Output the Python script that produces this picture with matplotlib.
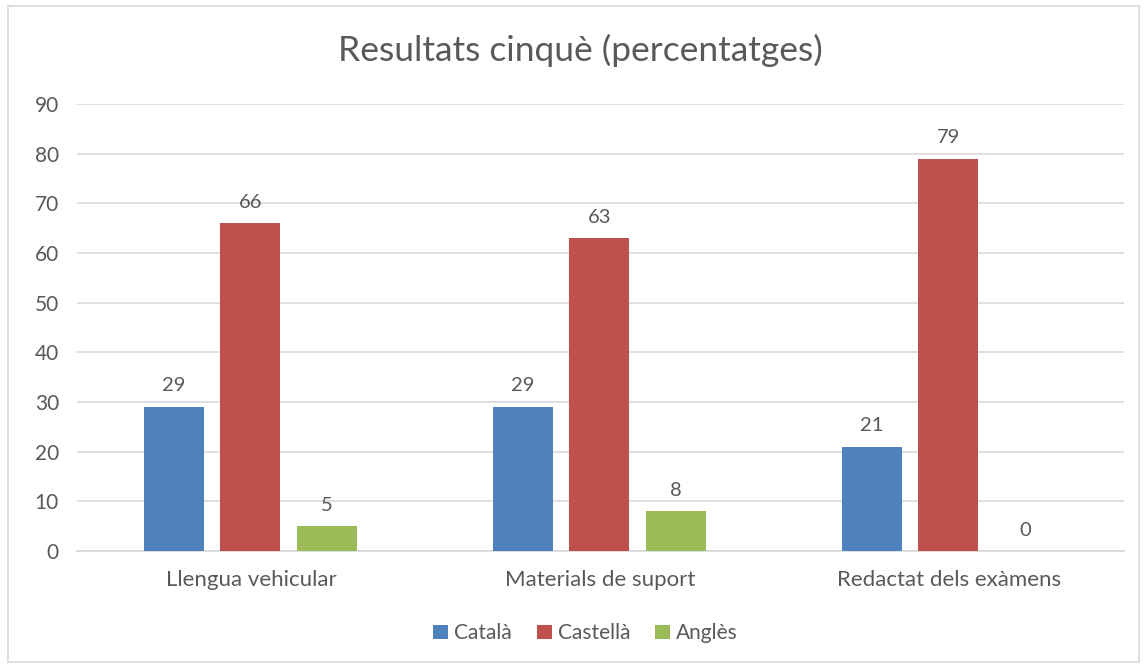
import numpy as np
import matplotlib.pyplot as plt
from matplotlib.patches import Rectangle

categories = ["Llengua vehicular", "Materials de suport", "Redactat dels exàmens"]
series_names = ["Català", "Castellà", "Anglès"]
catala = [29, 29, 21]
castella = [66, 63, 79]
angles = [5, 8, 0]
colors = ["#4f81bd", "#c0504d", "#9bbb59"]
yticks = [0, 10, 20, 30, 40, 50, 60, 70, 80, 90]

plt.rcParams['font.family'] = ['Lato', 'DejaVu Sans']
text_col = "#595959"

fig = plt.figure(figsize=(11.46, 6.68), dpi=100)
ax = fig.add_axes([0.0672, 0.1751, 0.9136, 0.6692])

x = np.arange(len(categories))
width = 0.172
step = 0.22
for i, (vals, name, c) in enumerate(zip([catala, castella, angles], series_names, colors)):
    bars = ax.bar(x + (i - 1) * step - 0.003, vals, width, color=c, label=name, zorder=3)
    for b, v in zip(bars, vals):
        ax.annotate(str(v), (b.get_x() + b.get_width() / 2, v), xytext=(0, 9),
                    textcoords="offset points", ha="center", va="bottom",
                    fontsize=14.5, color=text_col)

ax.set_xlim(-0.5, 2.5)
ax.set_ylim(0, 90)
ax.set_yticks(yticks)
ax.set_xticks(x)
ax.set_xticklabels(categories)
ax.grid(axis="y", color="#d9d9d9", linewidth=1.2, zorder=0)
for s in ["top", "right", "left"]:
    ax.spines[s].set_visible(False)
ax.spines["bottom"].set_color("#d9d9d9")
ax.spines["bottom"].set_linewidth(1.2)
ax.tick_params(axis="both", length=0, labelsize=15, colors=text_col)
ax.tick_params(axis="x", labelsize=16, pad=14)
ax.tick_params(axis="y", pad=13)

fig.text(0.506, 0.925, "Resultats cinquè (percentatges)", ha="center", va="center",
         fontsize=25.5, color=text_col)

leg = fig.legend(loc="center", bbox_to_anchor=(0.511, 0.052), ncol=3, frameon=False,
                 fontsize=15, handlelength=0.7, handleheight=0.7, handletextpad=0.3,
                 columnspacing=1.2, labelcolor=text_col)

fig.patches.append(Rectangle((8 / 1146, 6 / 668), 1 - 15 / 1146, 1 - 12 / 668,
                             transform=fig.transFigure, fill=False,
                             edgecolor="#d9d9d9", linewidth=1.2))

fig.savefig("out.png", dpi=100, facecolor="white")
